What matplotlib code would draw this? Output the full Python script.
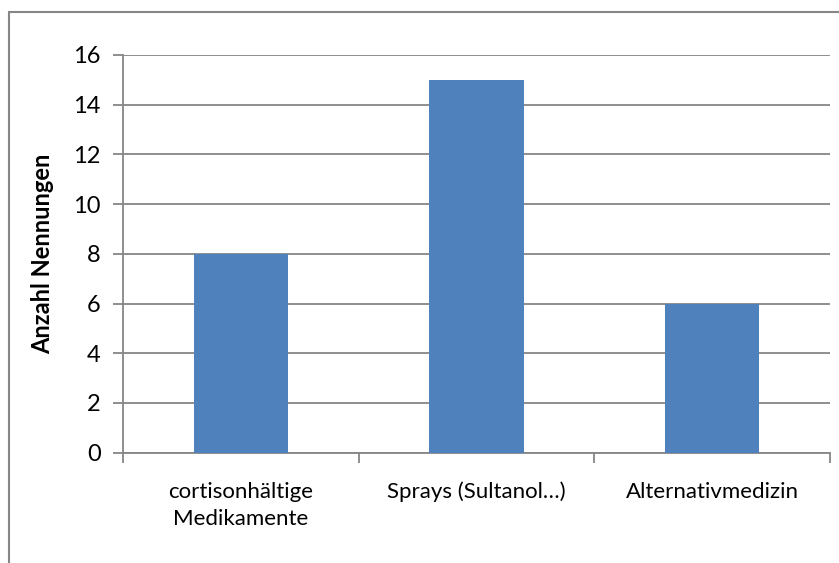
import matplotlib.pyplot as plt
import numpy as np
from matplotlib.patches import Rectangle

categories = ["cortisonhältige\nMedikamente", "Sprays (Sultanol…)", "Alternativmedizin"]
counts = [8, 15, 6]
y_ticks = [0, 2, 4, 6, 8, 10, 12, 14, 16]

grey = "#868686"
bar_color = "#4F81BD"

plt.rcParams["font.family"] = ["Lato", "DejaVu Sans"]

fig = plt.figure(figsize=(8.39, 5.63), dpi=100)
ax = fig.add_axes([123 / 839, 1 - 452.7 / 563, (830 - 123) / 839, (452.7 - 55) / 563])

x = np.arange(len(categories))
ax.bar(x, counts, width=0.4, color=bar_color, zorder=3)

ax.set_xlim(-0.5, len(categories) - 0.5)
ax.set_ylim(0, 16)
ax.set_yticks(y_ticks)
ax.set_yticklabels([str(v) for v in y_ticks], fontsize=17)
ax.yaxis.grid(True, color=grey, linewidth=1.3, zorder=0)

ax.set_xticks(x)
ax.set_xticklabels(categories, fontsize=16, linespacing=1.45)
ax.set_xticks(np.arange(len(categories) + 1) - 0.5, minor=True)
ax.tick_params(axis="x", which="major", length=0, pad=21)
ax.tick_params(axis="x", which="minor", length=7, width=1.3, color=grey)
ax.tick_params(axis="y", length=7, width=1.3, color=grey, pad=9)

for side in ["top", "right"]:
    ax.spines[side].set_visible(False)
for side in ["left", "bottom"]:
    ax.spines[side].set_color(grey)
    ax.spines[side].set_linewidth(1.3)

ax.set_ylabel("Anzahl Nennungen", fontsize=17, fontweight="bold", labelpad=14)

frame = Rectangle((9 / 839, -0.2), 1.2, 1.2 - 12 / 563, transform=fig.transFigure,
                  fill=False, edgecolor=grey, linewidth=1.5)
fig.patches.append(frame)

fig.savefig("out.png", dpi=100)
plt.close(fig)
